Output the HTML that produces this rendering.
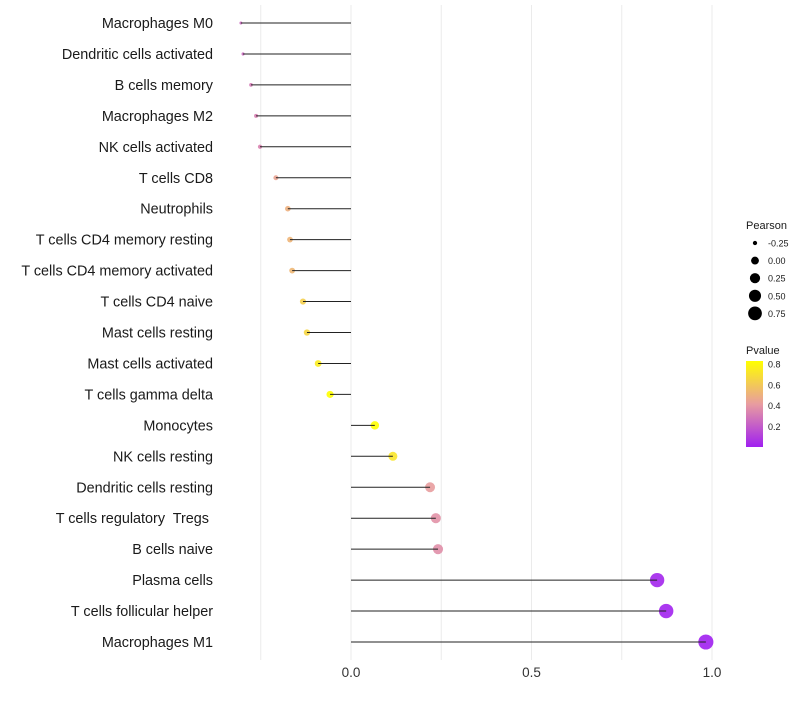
<!DOCTYPE html>
<html><head><meta charset="utf-8"><style>
body{margin:0;background:#fff;font-family:"Liberation Sans",sans-serif;}
text{white-space:pre;}
</style></head><body>
<svg id="chart" width="800" height="700" xmlns="http://www.w3.org/2000/svg">
<defs><linearGradient id="pg" x1="0" y1="1" x2="0" y2="0">
<stop offset="0" stop-color="#A020F0"/><stop offset="0.5" stop-color="#E89CA0"/><stop offset="1" stop-color="#FFFF00"/>
</linearGradient></defs>
</svg>
<script>
const categories=["Macrophages M0","Dendritic cells activated","B cells memory","Macrophages M2","NK cells activated","T cells CD8","Neutrophils","T cells CD4 memory resting","T cells CD4 memory activated","T cells CD4 naive","Mast cells resting","Mast cells activated","T cells gamma delta","Monocytes","NK cells resting","Dendritic cells resting","T cells regulatory  Tregs ","B cells naive","Plasma cells","T cells follicular helper","Macrophages M1"];
const pearson=[-0.305,-0.299,-0.277,-0.263,-0.252,-0.208,-0.175,-0.169,-0.163,-0.133,-0.122,-0.091,-0.058,0.066,0.116,0.219,0.235,0.241,0.848,0.873,0.983];
const pvalue=[0.25,0.25,0.3,0.32,0.33,0.45,0.5,0.52,0.53,0.63,0.66,0.75,0.83,0.83,0.72,0.42,0.38,0.37,0.02,0.01,0.0];
const xTicks=[0,0.5,1];
const xTickLabels=["0.0","0.5","1.0"];
const grid=[-0.25,0.25,0.75];
const sizeLegend=[-0.25,0,0.25,0.5,0.75];
const sizeLegendLabels=["-0.25","0.00","0.25","0.50","0.75"];
const pLegend=[0.2,0.4,0.6,0.8];

const NS="http://www.w3.org/2000/svg";
const svg=document.getElementById('chart');
const X=v=>351+v*361;
const Y=i=>23+i*30.95;
const R=v=>0.1+6.45*Math.sqrt(Math.max(0.01,v+0.35));
const pMin=0,pMax=0.83;
function lerp(a,b,t){return a.map((x,i)=>Math.round(x+(b[i]-x)*t));}
function col(p){let t=Math.max(0,Math.min(1,(p-pMin)/(pMax-pMin)));
 const s=[[160,32,240],[232,156,160],[255,255,0]];
 const c=t<0.5?lerp(s[0],s[1],t/0.5):lerp(s[1],s[2],(t-0.5)/0.5);
 return `rgb(${c[0]},${c[1]},${c[2]})`;}
function el(tag,attrs,parent){const e=document.createElementNS(NS,tag);for(const k in attrs)e.setAttribute(k,attrs[k]);(parent||svg).appendChild(e);return e;}

grid.concat(xTicks).forEach(g=>{
 const l=el('line',{x1:X(g),x2:X(g),y1:5,y2:660,stroke:'#ebebeb','stroke-width':1});
 
 
});
categories.forEach((c,i)=>{
 const t=el('text',{x:213,y:Y(i)+5,'text-anchor':'end','font-size':14.4,fill:'#1a1a1a'});
 t.textContent=c;
 
 
 const d=el('circle',{cx:X(pearson[i]),cy:Y(i),r:R(pearson[i]),fill:col(pvalue[i]),'fill-opacity':0.9});
 
 
 const l=el('line',{x1:X(0),x2:X(pearson[i]),y1:Y(i),y2:Y(i),stroke:'#222','stroke-width':1});
 
 
});
xTicks.forEach((v,i)=>{
 const t=el('text',{x:X(v),y:677,'text-anchor':'middle','font-size':13.5,fill:'#333'});
 t.textContent=xTickLabels[i];
 
 
});
const st=el('text',{x:746,y:229,'font-size':11,fill:'#1a1a1a'});st.textContent='Pearson';


sizeLegend.forEach((v,i)=>{
 const y=243+i*17.6;
 const c=el('circle',{cx:755,cy:y,r:R(v),fill:'#000'});
 
 
 const t=el('text',{x:768,y:y+3.5,'font-size':9,fill:'#1a1a1a'});t.textContent=sizeLegendLabels[i];
 
 
});
const pt=el('text',{x:746,y:354,'font-size':11,fill:'#1a1a1a'});pt.textContent='Pvalue';


const bar=el('rect',{x:746,y:361,width:17,height:86,fill:'url(#pg)'});


pLegend.forEach(p=>{
 const y=447-(p-pMin)/(pMax-pMin)*86;
 const t=el('text',{x:768,y:y+3.5,'font-size':9,fill:'#1a1a1a'});t.textContent=p.toFixed(1);
 
 
});
</script>
</body></html>
